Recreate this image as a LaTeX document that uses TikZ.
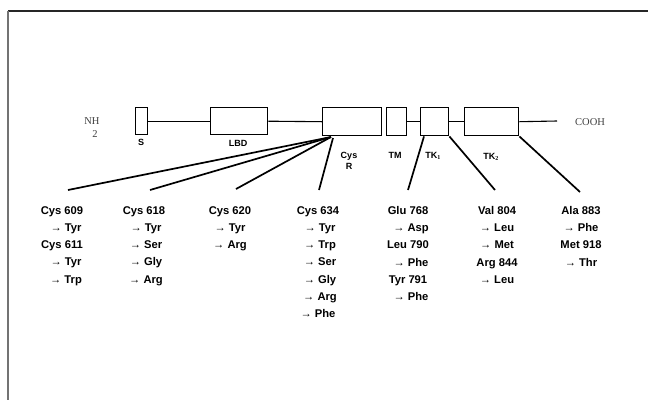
\documentclass[tikz,border=0pt]{standalone}
\usepackage{fontspec}
\setmainfont{Liberation Serif}
\setsansfont{Liberation Sans}
\begin{document}
\begin{tikzpicture}[x=1pt,y=-1pt,
  dom/.style={draw,line width=1.4pt,minimum height=27pt,inner sep=0pt,anchor=north west},
  blab/.style={font=\sffamily\bfseries\fontsize{9}{10}\selectfont,inner sep=0pt},
  mut/.style={font=\sffamily\bfseries\fontsize{11.2}{17.3}\selectfont,align=center,anchor=north,inner sep=0pt},
  term/.style={font=\rmfamily\fontsize{10.5}{12}\selectfont,text=black!75,inner sep=0pt},
  bb/.style={line width=1.1pt},
  fan/.style={line width=1.7pt}]
\useasboundingbox (0,0) rectangle (648,400);
\fill[white] (0,0) rectangle (648,400);
% frame
\coordinate (fTL) at (8,11);
\coordinate (fTR) at (648,11);
\coordinate (fBL) at (8,400);
\draw[line width=1.3pt,black!85] (fTL) -- (fTR);
\draw[line width=2pt,black!55] (fTL) -- (fBL);
% domains
\node[dom,minimum width=12pt] (S) at (135,107) {};
\node[dom,minimum width=57pt] (LBD) at (210,107) {};
\node[dom,minimum width=59pt,minimum height=28pt] (CysR) at (322,107) {};
\node[dom,minimum width=20pt,minimum height=28pt] (TM) at (386,107) {};
\node[dom,minimum width=28pt,minimum height=28pt] (TK1) at (420,107) {};
\node[dom,minimum width=54pt,minimum height=28pt] (TK2) at (464,107) {};
\coordinate (cend) at (557,121);
\draw[bb] (S.east) -- (LBD.west);
\draw[bb] (LBD.east) -- (CysR.west);
\draw[bb] (TM.east) -- (TK1.west);
\draw[bb] (TK1.east) -- (TK2.west);
\draw[bb] (TK2.east) -- (cend);
% terminal labels
\node[term] (nh) at (92,121) {NH};
\node[term] (nh2) at (95,134) {2};
\node[term,anchor=west] (cooh) at (575,122) {COOH};
% domain labels
\node[blab] (lS) at (141,142) {S};
\node[blab] (lLBD) at (238,143) {LBD};
\node[blab,align=center] (lCys) at (349,161) {Cys\\[1pt]R};
\node[blab] (lTM) at (395,155) {TM};
\node[blab] (lTK1) at (433,156) {TK$_{\mathbf 1}$};
\node[blab] (lTK2) at (491,157) {TK$_{\mathbf 2}$};
% mutation columns
\node[mut] (m609) at (62,206) {Cys 609\\\hspace*{8pt}→ Tyr\\Cys 611\\\hspace*{8pt}→ Tyr\\\hspace*{8pt}→ Trp};
\node[mut] (m618) at (144,206) {Cys 618\\\hspace*{4pt}→ Tyr\\\hspace*{4pt}→ Ser\\\hspace*{4pt}→ Gly\\\hspace*{4pt}→ Arg};
\node[mut] (m620) at (230,206) {Cys 620\\→ Tyr\\→ Arg};
\node[mut] (m634) at (318,206) {Cys 634\\\hspace*{4pt}→ Tyr\\\hspace*{4pt}→ Trp\\\hspace*{4pt}→ Ser\\\hspace*{4pt}→ Gly\\\hspace*{4pt}→ Arg\\→ Phe};
\node[mut] (m768) at (408,206) {Glu 768\\\hspace*{6pt}→ Asp\\Leu 790\\\hspace*{6pt}→ Phe\\Tyr 791\\\hspace*{6pt}→ Phe};
\node[mut] (m804) at (497,206) {Val 804\\→ Leu\\→ Met\\Arg 844\\→ Leu};
\node[mut] (m883) at (581,206) {Ala 883\\→ Phe\\Met 918\\→ Thr};
% connector ends
\coordinate (o1) at (331,137);
\coordinate (o2) at (333,138);
\coordinate (e609) at (68,190);
\coordinate (e618) at (150,190);
\coordinate (e620) at (236,189);
\coordinate (e634) at (319,190);
\coordinate (e768) at (408,190);
\coordinate (e804) at (495,190);
\coordinate (e883) at (580,192);
\draw[fan] (o1) -- (e609);
\draw[fan] (o1) -- (e618);
\draw[fan] (o1) -- (e620);
\draw[fan] (o2) -- (e634);
\draw[fan] ([xshift=4pt]TK1.south west) -- (e768);
\draw[fan] (TK1.south east) -- (e804);
\draw[fan] (TK2.south east) -- (e883);
\end{tikzpicture}
\end{document}
